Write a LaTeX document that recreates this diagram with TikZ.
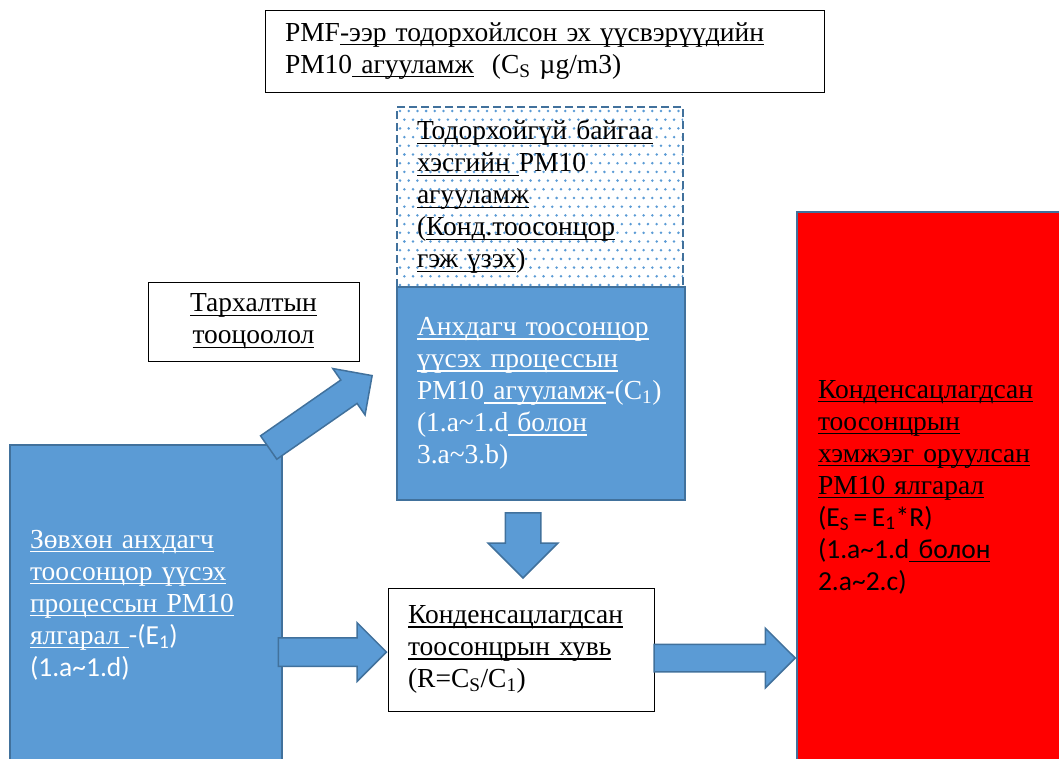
\documentclass[tikz,border=0pt]{standalone}
\usepackage{fontspec}
\setmainfont{Liberation Serif}
\setsansfont{Carlito}
\usetikzlibrary{shapes.arrows,calc}

\definecolor{boxblue}{RGB}{91,155,213}
\definecolor{edgeblue}{RGB}{65,113,156}

% underline that stays at one depth below the baseline
\newsavebox\ulbox
\newcommand\uln[1]{\leavevmode\sbox\ulbox{#1}\rlap{\rule[-4pt]{\wd\ulbox}{1.3pt}}\usebox\ulbox}

\tikzset{
  textbox/.style={draw, line width=1pt, align=left, inner xsep=20pt, inner ysep=0pt,
    font=\fontsize{27.5}{32}\selectfont},
  bluebox/.style={textbox, fill=boxblue, draw=edgeblue, line width=1.5pt, text=white},
  dotbox/.style={textbox, draw=edgeblue, line width=2.5pt, dash pattern=on 8pt off 4pt,
    path picture={
      \foreach \i in {0,...,21}
        \foreach \j in {0,...,33}
          \fill[boxblue] ($(path picture bounding box.north west)+({\j*8.7+3+mod(\i,2)*4.35},{-\i*8.7-4})$) circle (1.4pt);
    }},
  blockarrow/.style={single arrow, fill=boxblue, draw=edgeblue, line width=1.5pt,
    inner xsep=0pt, minimum width=0pt, single arrow tip angle=90, anchor=tip},
}

\begin{document}
\begin{tikzpicture}[x=1pt, y=1pt]
  \useasboundingbox (0,0) rectangle (1059,-758);
  \clip (0,0) rectangle (1059,-758);

  % source boxes
  \node[textbox, text width=519pt, minimum height=82pt] (pmf) at (544.5,-51)
    {PMF\uln{-ээр тодорхойлсон эх үүсвэрүүдийн}\\
     PM10\uln{\ агууламж}\ \ (C\textsubscript{S} µg/m3)};

  \node[dotbox, text width=246pt, minimum height=180pt] (unknown) at (540,-197)
    {\uln{Тодорхойгүй байгаа}\\
     \uln{хэсгийн\ }PM10\\
     \uln{агууламж}\\
     (\uln{Конд.тоосонцор}\\
     \uln{гэж үзэх})};

  \node[bluebox, text width=248pt, minimum height=213pt] (primary) at (541,-393.5)
    {\uln{Анхдагч тоосонцор}\\
     \uln{үүсэх процессын}\\
     PM10\uln{\ агууламж}-(C\textsubscript{1})\\
     (1.a\textasciitilde1.d\uln{\ болон}\\
     3.a\textasciitilde3.b)};

  \node[bluebox, text width=232pt, minimum height=320pt] (emis) at (146,-605)
    {\uln{Зөвхөн анхдагч}\\
     \uln{тоосонцор үүсэх}\\
     \uln{процессын PM10}\\
     \uln{ялгарал\ }{\sffamily-(E\textsubscript{1})}\\
     {\sffamily(1.a\textasciitilde1.d)}};

  \node[textbox, align=center, text width=171pt, minimum height=79pt] (disp) at (253.5,-321.5)
    {\uln{Тархалтын}\\ \uln{тооцоолол}};

  \node[textbox, text width=226pt, minimum height=123pt] (ratio) at (521,-649.5)
    {\uln{Конденсацлагдсан}\\
     \uln{тоосонцрын хувь}\\
     (R=C\textsubscript{S}/C\textsubscript{1})};

  \node[textbox, fill=red, draw=edgeblue, line width=1.5pt, inner xsep=21pt,
        text width=241pt, minimum height=550pt] (total) at (938.5,-487)
    {\uln{Конденсацлагдсан}\\
     \uln{тоосонцрын}\\
     \uln{хэмжээг оруулсан}\\
     \uln{PM10 ялгарал}\\
     {\sffamily(E\textsubscript{S}\,=\,E\textsubscript{1}*R)}\\
     {\sffamily(1.a\textasciitilde1.d\uln{\ болон}}\\
     {\sffamily 2.a\textasciitilde2.c)}};

  % block arrows, placed by their tips
  \node[blockarrow, inner ysep=13.5pt, single arrow head extend=14pt,
        minimum height=126pt, rotate=34.8] (arrup) at (373,-375) {};
  \node[blockarrow, inner ysep=13.5pt, single arrow head extend=15pt,
        minimum height=108pt] (arrin) at (ratio.west |- 0,-652) {};
  \node[blockarrow, inner ysep=17pt, single arrow head extend=17pt,
        minimum height=65pt, rotate=-90] (arrdown) at (523,-579) {};
  \node[blockarrow, inner ysep=13pt, single arrow head extend=16pt,
        minimum height=141pt] (arrout) at (total.west |- 0,-658) {};
\end{tikzpicture}
\end{document}
